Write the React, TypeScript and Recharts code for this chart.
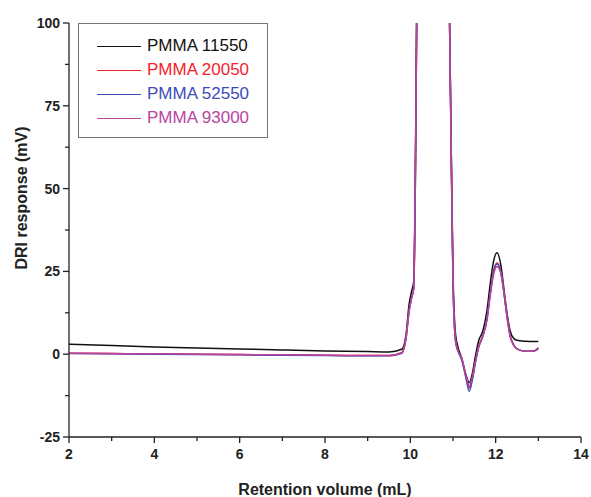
import { LineChart, Line, XAxis, YAxis } from 'recharts';

// retention volume (mL) sampling points shared by all traces
const retention = [
  2, 3, 4, 5, 6, 7, 8, 9, 9.5, 9.8, 9.9, 9.97, 10.03, 10.08, 10.12, 10.17, 10.5, 10.88, 10.95,
  11.0, 11.06, 11.12, 11.2, 11.3, 11.38, 11.45, 11.52, 11.6, 11.7, 11.8, 11.87, 11.95, 12.03,
  12.12, 12.2, 12.26, 12.34, 12.42, 12.5, 12.7, 12.9, 13.0,
];

const pmma11550 = [
  3.0, 2.6, 2.2, 1.9, 1.6, 1.3, 1.0, 0.8, 0.7, 1.5, 6, 15, 19, 22, 60, 140, 500, 140, 70,
  25, 6, 2, -1, -6, -8.6, -6, -1, 4, 7, 13.5, 21, 28, 30.6,
  27, 19, 13, 7, 4.8, 4.2, 3.9, 3.8, 3.8,
];
const pmma20050 = [
  0.3, 0.2, 0.1, 0.0, -0.1, -0.2, -0.3, -0.4, -0.4, 0.5, 5, 13, 17, 20, 55, 135, 500, 140, 70,
  22, 4, 1, -1.2, -6.5, -10.2, -7.5, -2.5, 2.2, 5.5, 11, 18, 25, 27.5,
  25, 18, 12, 5.5, 2.8, 1.6, 0.9, 1.0, 1.8,
];
const pmma52550 = [
  0.2, 0.1, 0.0, -0.1, -0.2, -0.3, -0.4, -0.5, -0.5, 0.3, 5, 13, 17, 20, 55, 135, 500, 140, 70,
  22, 4, 0.8, -1.5, -7, -11.2, -8, -3, 2, 5.5, 11, 18, 24.8, 27.2,
  24.8, 18, 12, 5.5, 2.8, 1.6, 0.9, 1.0, 1.6,
];
const pmma93000 = [
  0.3, 0.2, 0.1, 0.0, -0.1, -0.2, -0.3, -0.4, -0.4, 0.4, 5, 13, 17, 20, 55, 135, 500, 140, 70,
  22, 4, 1, -1, -6.3, -9.6, -7, -2.5, 2.2, 5.5, 10.5, 17.5, 24, 26.5,
  24.5, 18, 12, 5.5, 2.8, 1.6, 0.9, 1.0, 2.0,
];

const series = [
  { name: 'PMMA 11550', values: pmma11550, color: '#111111' },
  { name: 'PMMA 20050', values: pmma20050, color: '#f5222a' },
  { name: 'PMMA 52550', values: pmma52550, color: '#3b4db8' },
  { name: 'PMMA 93000', values: pmma93000, color: '#b8449f' },
];

const xTicks = [2, 3, 4, 5, 6, 7, 8, 9, 10, 11, 12, 13, 14];
const yTicks = [-25, -12.5, 0, 12.5, 25, 37.5, 50, 62.5, 75, 87.5, 100];

const data = retention.map((rv, i) => {
  const row: Record<string, number> = { rv };
  series.forEach((s) => (row[s.name] = s.values[i]));
  return row;
});

const FONT = 'Arial, "Liberation Sans", sans-serif';
const AXIS = '#222';

const XTick = (props: any) => {
  const { x, y, payload } = props;
  const major = payload.value % 2 === 0;
  return (
    <g>
      <line x1={x} x2={x} y1={y} y2={y + (major ? 6 : 4)} stroke={AXIS} strokeWidth={1.3} />
      {major && (
        <text x={x} y={y + 22} textAnchor="middle" fontFamily={FONT} fontWeight="bold" fontSize={14} fill="#222">
          {payload.value}
        </text>
      )}
    </g>
  );
};

const YTick = (props: any) => {
  const { x, y, payload } = props;
  const major = payload.value % 25 === 0;
  return (
    <g>
      <line x1={x} x2={x - (major ? 6 : 4)} y1={y} y2={y} stroke={AXIS} strokeWidth={1.3} />
      {major && (
        <text x={x - 9} y={y + 5} textAnchor="end" fontFamily={FONT} fontWeight="bold" fontSize={14} fill="#222">
          {payload.value}
        </text>
      )}
    </g>
  );
};

const YLabel = () => (
  <text
    x={0}
    y={0}
    transform="translate(27 198) rotate(-90)"
    textAnchor="middle"
    fontFamily={FONT}
    fontWeight="bold"
    fontSize={16}
    fill="#222"
  >
    DRI response (mV)
  </text>
);

const LegendBox = () => (
  <div
    style={{
      position: 'absolute',
      left: 78,
      top: 23,
      border: '1px solid #777',
      width: 190,
      height: 115,
      boxSizing: 'border-box',
      paddingTop: 10,
      fontFamily: FONT,
      fontSize: 17,
      background: '#fff',
    }}
  >
    {series.map((s) => (
      <div key={s.name} style={{ display: 'flex', alignItems: 'center', height: 24 }}>
        <div style={{ width: 44, height: 0, borderTop: `1.5px solid ${s.color}`, marginLeft: 18, marginRight: 6 }} />
        <span style={{ color: s.color }}>{s.name}</span>
      </div>
    ))}
  </div>
);

export default function App() {
  return (
    <div style={{ position: 'absolute', left: 0, top: 0, width: 591, height: 497, background: '#fff' }}>
      <LineChart width={591} height={497} data={data} margin={{ top: 23, right: 10, bottom: 0, left: 0 }}>
        <XAxis
          dataKey="rv"
          type="number"
          domain={[2, 14]}
          ticks={xTicks}
          interval={0}
          height={60}
          tickSize={0}
          tickMargin={0}
          tickLine={false}
          tick={<XTick />}
          axisLine={{ stroke: AXIS, strokeWidth: 1.3 }}
          label={{
            value: 'Retention volume (mL)',
            position: 'insideBottom',
            offset: 2,
            style: { fontFamily: FONT, fontWeight: 'bold', fontSize: 16, fill: '#222' },
          }}
        />
        <YAxis
          type="number"
          domain={[-25, 100]}
          allowDataOverflow
          ticks={yTicks}
          interval={0}
          width={69}
          tickSize={0}
          tickMargin={0}
          tickLine={false}
          tick={<YTick />}
          axisLine={{ stroke: AXIS, strokeWidth: 1.3 }}
          label={{ content: <YLabel /> }}
        />
        {series.map((s) => (
          <Line
            key={s.name}
            dataKey={s.name}
            type="monotone"
            stroke={s.color}
            strokeWidth={1.5}
            dot={false}
            isAnimationActive={false}
          />
        ))}
      </LineChart>
      <LegendBox />
    </div>
  );
}
